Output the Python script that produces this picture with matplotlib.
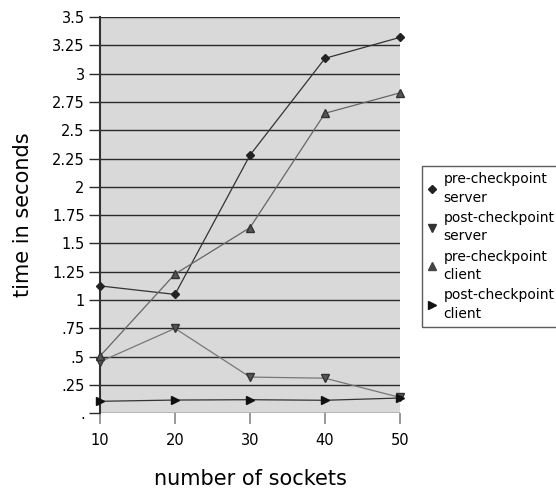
import matplotlib.pyplot as plt
from matplotlib.lines import Line2D

sockets = [10, 20, 30, 40, 50]
pre_server = [1.125, 1.05, 2.28, 3.135, 3.32]
post_server = [0.455, 0.75, 0.32, 0.31, 0.14]
pre_client = [0.505, 1.23, 1.64, 2.65, 2.83]
post_client = [0.106, 0.117, 0.12, 0.115, 0.135]

yticks = [0, 0.25, 0.5, 0.75, 1, 1.25, 1.5, 1.75, 2, 2.25, 2.5, 2.75, 3, 3.25, 3.5]
ylabels = ['.', '.25', '.5', '.75', '1', '1.25', '1.5', '1.75', '2', '2.25',
           '2.5', '2.75', '3', '3.25', '3.5']
xticks = [10, 20, 30, 40, 50]

fig = plt.figure(figsize=(5.56, 4.90), dpi=100)
ax = fig.add_axes([100/556, 1 - 413.3/490, 300/556, (413.3 - 17)/490])
ax.set_facecolor('#d9d9d9')

ax.plot(sockets, pre_server, color='#333333', lw=0.9, marker='D', ms=4.2,
        mfc='#222222', mec='#222222', clip_on=False, zorder=4)
ax.plot(sockets, post_server, color='#777777', lw=0.9, marker='v', ms=5.5,
        mfc='#555555', mec='#333333', clip_on=False, zorder=4)
ax.plot(sockets, pre_client, color='#666666', lw=0.9, marker='^', ms=5.5,
        mfc='#555555', mec='#333333', clip_on=False, zorder=4)
ax.plot(sockets, post_client, color='#333333', lw=0.9, marker='>', ms=5.5,
        mfc='#111111', mec='#111111', clip_on=False, zorder=4)

ax.set_xlim(10, 50)
ax.set_ylim(0, 3.5)
ax.set_yticks(yticks)
ax.set_yticklabels(ylabels)
ax.set_xticks(xticks)
ax.grid(axis='y', color='#2a2a2a', lw=1)
ax.set_axisbelow(True)

for s in ['top', 'right', 'bottom']:
    ax.spines[s].set_visible(False)
ax.spines['left'].set_color('#333333')
ax.spines['left'].set_linewidth(1.5)

ax.tick_params(axis='y', direction='out', length=8, width=1, color='#2a2a2a',
               labelsize=10.5, pad=3)
ax.tick_params(axis='x', direction='out', length=8, width=1.2, color='#888888',
               labelsize=10.5, pad=6)

ax.set_xlabel('number of sockets', fontsize=15, labelpad=15)
ax.set_ylabel('time in seconds', fontsize=15, labelpad=14)

handles = [
    Line2D([], [], ls='none', marker='D', ms=4, mfc='#222222', mec='#222222'),
    Line2D([], [], ls='none', marker='v', ms=6, mfc='#333333', mec='#333333'),
    Line2D([], [], ls='none', marker='^', ms=6, mfc='#444444', mec='#444444'),
    Line2D([], [], ls='none', marker='>', ms=6, mfc='#111111', mec='#111111'),
]
labels = ['pre-checkpoint\nserver', 'post-checkpoint\nserver',
          'pre-checkpoint\nclient', 'post-checkpoint\nclient']
leg = fig.legend(handles, labels, loc='upper left',
                 bbox_to_anchor=(422/556, 1 - 166/490), fontsize=10,
                 frameon=True, fancybox=False, handlelength=0.6,
                 handletextpad=0.5, borderpad=0.45, labelspacing=0.45,
                 borderaxespad=0)
for t in leg.get_texts():
    t.set_linespacing(1.4)
leg.get_frame().set_edgecolor('#333333')
leg.get_frame().set_linewidth(1)
leg.get_frame().set_facecolor('white')

fig.savefig('out.png', dpi=100)
